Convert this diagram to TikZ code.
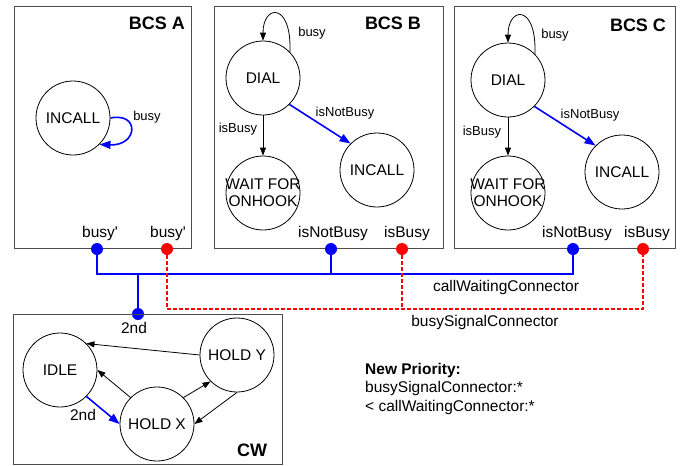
\documentclass[tikz,border=0pt]{standalone}
\usepackage{fontspec}
\setmainfont{Liberation Sans}
\usetikzlibrary{positioning,calc,arrows.meta}

\begin{document}
\begin{tikzpicture}[x=1pt,y=-1pt,
    box/.style={draw=black!70, line width=1pt},
    state/.style={circle, draw, line width=0.8pt, minimum size=74pt, inner sep=0pt, font=\fontsize{15.5}{17}\selectfont},
    trans/.style={-{Triangle[length=8pt,width=6pt]}, line width=0.8pt},
    ntrans/.style={-{Triangle[length=11pt,width=8pt]}, draw=blue, line width=1.6pt},
    lbl/.style={font=\fontsize{13}{15}\selectfont, inner sep=0pt},
    txt/.style={font=\fontsize{15.5}{17}\selectfont, inner sep=1pt},
    title/.style={font=\fontsize{18}{20}\selectfont\bfseries, inner sep=0pt},
    port/.style={circle, fill=#1, minimum size=12pt, inner sep=0pt},
    bus/.style={draw=blue, line width=2pt},
    sig/.style={draw=red, line width=1.5pt, dash pattern=on 4pt off 2pt}]
    \useasboundingbox (0,0) rectangle (683,466);

    % BCS A
    \draw[box] (14,6) rectangle (191,248);
    \node[title] (ta) at (157,23) {BCS A};
    \node[state] (ai) at (73,118) {INCALL};
    \draw[ntrans] (ai.east) .. controls (140,112) and (138,146) .. (ai.-45);
    \node[lbl] (la) at (147,117) {busy};

    % BCS B
    \draw[box] (214,6) rectangle (443,248);
    \node[title] (tb) at (393,23) {BCS B};
    \node[state] (bd) at (263,78) {DIAL};
    \node[state, label={[align=center, txt, inner sep=0pt]center:WAIT FOR\\ONHOOK}] (bw) at (263,193) {};
    \node[state] (bi) at (377,170) {INCALL};
    \draw[trans] (bd.44) .. controls (292,2) and (263,4) .. (bd.north);
    \draw[trans] (bd) -- (bw);
    \draw[ntrans] (bd.-45) -- (bi.135);
    \node[lbl] (lb1) at (312,33) {busy};
    \node[lbl] (lb2) at (238,129) {isBusy};
    \node[lbl] (lb3) at (345,113) {isNotBusy};

    % BCS C
    \draw[box] (454,6) rectangle (675,248);
    \node[title] (tc) at (638,25) {BCS C};
    \node[state] (cd) at (508,80) {DIAL};
    \node[state, label={[align=center, txt, inner sep=0pt]center:WAIT FOR\\ONHOOK}] (cw) at (508,193) {};
    \node[state] (ci) at (622,172) {INCALL};
    \draw[trans] (cd.44) .. controls (537,4) and (508,6) .. (cd.north);
    \draw[trans] (cd) -- (cw);
    \draw[ntrans] (cd.-45) -- (ci.135);
    \node[lbl] (lc1) at (555,35) {busy};
    \node[lbl] (lc2) at (482,132) {isBusy};
    \node[lbl] (lc3) at (590,115) {isNotBusy};

    % ports on the box edges
    \node[port=blue] (pab) at (97,249) {};
    \node[port=red] (par) at (167,249) {};
    \node[port=blue] (pbb) at (331,249) {};
    \node[port=red] (pbr) at (402,249) {};
    \node[port=blue] (pcb) at (573,249) {};
    \node[port=red] (pcr) at (643,249) {};
    \node[port=blue] (pw) at (138,314) {};
    \node[txt, above=1pt of pab, xshift=3pt] (qab) {busy\textquotesingle};
    \node[txt, above=1pt of par, xshift=1pt] (qar) {busy\textquotesingle};
    \node[txt, above=1pt of pbb, xshift=2pt] (qbb) {isNotBusy};
    \node[txt, above=1pt of pbr, xshift=5pt] (qbr) {isBusy};
    \node[txt, above=1pt of pcb, xshift=4pt] (qcb) {isNotBusy};
    \node[txt, above=1pt of pcr, xshift=4pt] (qcr) {isBusy};
    \node[txt, below=1pt of pw, xshift=-4pt] (qw) {2nd};

    % connectors
    \coordinate (cwy) at (0,274);
    \coordinate (sgy) at (0,309);
    \draw[bus] (pab) -- (pab |- cwy) -| (pcb);
    \draw[bus] (pbb) -- (pbb |- cwy);
    \draw[bus] (pw) -- (pw |- cwy);
    \draw[sig] (par) -- (par |- sgy) -| (pcr);
    \draw[sig] (pbr) -- (pbr |- sgy);
    \node[txt] (ncw) at (506,287) {callWaitingConnector};
    \node[txt] (nbs) at (485,322) {busySignalConnector};

    % CW
    \draw[box] (13,314) rectangle (282,464);
    \node[title] (tw) at (252,450) {CW};
    \node[state] (idle) at (60,370) {IDLE};
    \node[state] (hx) at (157,424) {HOLD X};
    \node[state] (hy) at (237,355) {HOLD Y};
    \draw[trans] (hy.west) -- (idle.45);
    \draw[trans] (hx.135) -- (idle.east);
    \draw[trans] (hx.45) -- (hy.225);
    \draw[trans] (hy.south) -- (hx.east);
    \draw[ntrans] (idle.-45) -- (hx.west);
    \node[txt] (lw) at (83,415) {2nd};

    % priority note
    \node[txt, anchor=north west, align=left, inner sep=0pt, font=\fontsize{15.5}{18.5}\selectfont] (np) at (365,363)
        {\textbf{New Priority:}\\busySignalConnector:*\\< callWaitingConnector:*};
\end{tikzpicture}
\end{document}
